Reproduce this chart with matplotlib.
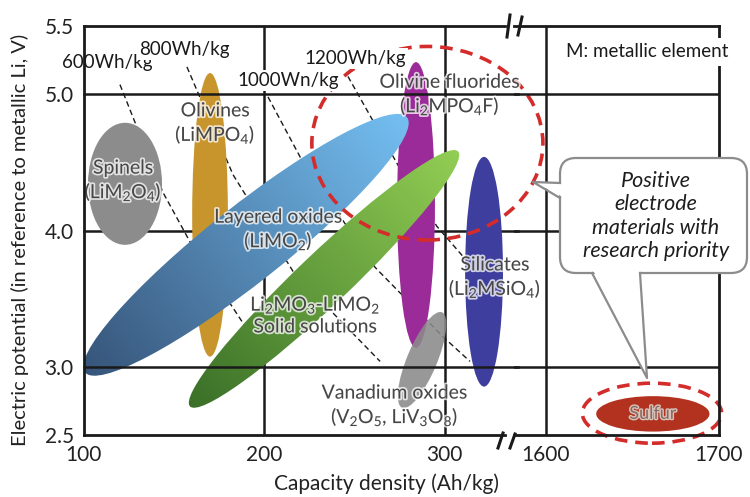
import numpy as np
import matplotlib
matplotlib.use('Agg')
import matplotlib.pyplot as plt
import matplotlib.transforms as mtransforms
import matplotlib.patheffects as pe
from matplotlib.patches import Ellipse, FancyBboxPatch, Polygon
from matplotlib.lines import Line2D

plt.rcParams['font.family'] = ['Lato', 'DejaVu Sans']
plt.rcParams['mathtext.fontset'] = 'custom'
plt.rcParams['mathtext.rm'] = 'Lato'
plt.rcParams['mathtext.it'] = 'Lato:italic'
plt.rcParams['mathtext.bf'] = 'Lato:bold'

# ---- data: capacity density (Ah/kg) vs potential (V) ----
x_ticks_low = [100, 200, 300]
x_ticks_high = [1600, 1700]
y_ticks = [2.5, 3.0, 4.0, 5.0, 5.5]

# energy density curves
wh_labels = ['600Wh/kg', '800Wh/kg', '1000Wn/kg', '1200Wh/kg']
wh600_c = [120.2, 144.0, 160.1, 188.9, 193.0]
wh600_v = [5.07, 4.28, 3.89, 3.31, 3.22]
wh800_c = [157.3, 182.8, 216.1, 239.3, 264.3]
wh800_v = [5.20, 4.41, 3.70, 3.38, 3.04]
wh1000_c = [202.2, 221.6, 261.5, 299.2, 314.1]
wh1000_v = [4.98, 4.50, 3.73, 3.22, 3.04]
wh1200_c = [246.5, 274.2, 295.8, 310.2, 319.7]
wh1200_v = [5.13, 4.48, 4.03, 3.81, 3.64]
wh_label_c = [113.0, 155.7, 213.3, 250.4]
wh_label_v = [5.23, 5.33, 5.10, 5.26]

# upright material regions: capacity range, potential range
up_names = ['Spinels', 'Olivines', 'Olivine fluorides', 'Silicates']
up_c_min = [102.5, 160.2, 273.7, 311.4]
up_c_max = [143.5, 180.0, 294.7, 332.4]
up_v_min = [3.895, 3.075, 3.14, 2.855]
up_v_max = [4.79, 5.155, 5.235, 4.54]
up_colors = ['#8c8c8c', '#c8952c', '#9b2b98', '#3e3e9e']

# tilted material regions: (capacity, potential) of both ends
tilt_names = ['Layered oxides', 'Li2MO3-LiMO2', 'Vanadium oxides']
tilt_c = [[100.8, 279.2], [159.0, 307.5], [276.5, 298.6]]
tilt_v = [[2.96, 4.83], [2.71, 4.58], [2.70, 3.40]]

# sulfur
sulfur_c = [1629.0, 1694.5]
sulfur_v = [2.525, 2.785]

# research priority rings
ring_c = [226.5, 354.5]
ring_v = [3.93, 5.35]
ring2_c = [1621.0, 1701.5]
ring2_v = [2.44, 2.88]

W, H = 750, 497
fig = plt.figure(figsize=(W / 100, H / 100), dpi=100)
ax = fig.add_axes([83.5 / W, 1 - 435 / H, (505 - 83.5) / W, (435 - 26) / H])
ax2 = fig.add_axes([514 / W, 1 - 435 / H, (719 - 514) / W, (435 - 26) / H])
ax2.patch.set_visible(False)
for a in (ax, ax2):
    a.set_ylim(2.5, 5.5)
    a.set_autoscale_on(False)
ax.set_xlim(100, 333.5)
ax2.set_xlim(1581.5, 1700)

ident = mtransforms.IdentityTransform()
ink = '#1a1a1a'

ax.spines['right'].set_visible(False)
ax2.spines['left'].set_visible(False)
for a in (ax, ax2):
    for s in a.spines.values():
        s.set_linewidth(2.0)
        s.set_color(ink)
        s.set_zorder(6)
    a.tick_params(length=0, pad=7, labelsize=15, colors='#222222')
ax.set_xticks(x_ticks_low)
ax.set_yticks(y_ticks)
ax.set_yticklabels(['%.1f' % v for v in y_ticks])
ax2.set_xticks(x_ticks_high)
ax2.set_yticks([])

# grid
for xv in [200, 300]:
    ax.axvline(xv, color=ink, lw=1.8, zorder=1)
ax2.axvline(1600, color=ink, lw=1.8, zorder=1)
ax.axhline(4.0, xmax=1.03, color=ink, lw=1.8, zorder=1, clip_on=False)
ax2.axhline(4.0, color=ink, lw=1.8, zorder=1)
for yv in [3.0, 5.0]:
    ax.axhline(yv, xmax=1.03, color=ink, lw=1.8, zorder=2.8, clip_on=False)
    ax2.axhline(yv, color=ink, lw=1.8, zorder=2.8)

# energy density lines
for cs, vs in [(wh600_c, wh600_v), (wh800_c, wh800_v),
               (wh1000_c, wh1000_v), (wh1200_c, wh1200_v)]:
    ax.plot(cs, vs, color=ink, lw=1.0, ls=(0, (4, 2.5)), zorder=1.5)
for lab, c, v in zip(wh_labels, wh_label_c, wh_label_v):
    ax.text(c, v, lab, ha='center', va='center', fontsize=13.5, color=ink, zorder=5,
            bbox=dict(boxstyle='square,pad=0.12', fc='white', ec='none'))

# upright regions
up_z = [2.0, 2.0, 2.1, 2.1]
for c0, c1, v0, v1, col, z in zip(up_c_min, up_c_max, up_v_min, up_v_max, up_colors, up_z):
    ax.add_patch(Ellipse(((c0 + c1) / 2, (v0 + v1) / 2), c1 - c0, v1 - v0,
                         facecolor=col, edgecolor='none', zorder=z))


def tilted(a, cs, vs, thick, dark, light, z, alpha=1.0):
    p = a.transData.transform(np.column_stack([cs, vs]))
    mid = p.mean(axis=0)
    d = p[1] - p[0]
    length = np.hypot(d[0], d[1])
    ang = np.degrees(np.arctan2(d[1], d[0]))
    if dark == light:
        a.add_patch(Ellipse(mid, length, thick, angle=ang, transform=ident,
                            facecolor=dark, edgecolor='none', zorder=z, alpha=alpha))
        return
    ell = Ellipse(mid, length, thick, angle=ang, transform=ident,
                  facecolor='none', edgecolor='none', zorder=z)
    a.add_patch(ell)
    n = 300
    xs = np.linspace(mid[0] - length / 2, mid[0] + length / 2, n)
    ys = np.linspace(mid[1] - length / 2, mid[1] + length / 2, n)
    X, Y = np.meshgrid(xs, ys)
    t = ((X - p[0][0]) * d[0] + (Y - p[0][1]) * d[1]) / length ** 2
    t = np.clip(t, 0, 1)[..., None]
    c0 = np.array(matplotlib.colors.to_rgb(dark))
    c1 = np.array(matplotlib.colors.to_rgb(light))
    rgb = c0 * (1 - t) + c1 * t
    im = a.imshow(rgb, extent=(xs[0], xs[-1], ys[0], ys[-1]), origin='lower',
                  transform=ident, zorder=z, aspect='auto', interpolation='bilinear')
    im.set_clip_path(ell)


tilted(ax, tilt_c[0], tilt_v[0], 76, '#37557a', '#74bff2', 2.3)
tilted(ax, tilt_c[1], tilt_v[1], 52, '#3a7028', '#92ce54', 2.4)
tilted(ax, tilt_c[2], tilt_v[2], 30, '#8a8a8a', '#8a8a8a', 2.5, alpha=0.88)

# sulfur
ax2.add_patch(Ellipse((np.mean(sulfur_c), np.mean(sulfur_v)), sulfur_c[1] - sulfur_c[0],
                      sulfur_v[1] - sulfur_v[0], facecolor='#b3321f', edgecolor='none', zorder=2))

# rings
red = '#d42b2b'
ax.add_patch(Ellipse((np.mean(ring_c), np.mean(ring_v)), ring_c[1] - ring_c[0], ring_v[1] - ring_v[0],
                     fill=False, edgecolor=red, lw=2.6, ls=(0, (3.5, 2.2)), zorder=3, clip_on=False))
ax2.add_patch(Ellipse((np.mean(ring2_c), np.mean(ring2_v)), ring2_c[1] - ring2_c[0], ring2_v[1] - ring2_v[0],
                      fill=False, edgecolor=red, lw=2.6, ls=(0, (3.5, 2.2)), zorder=3, clip_on=False))

# labels
halo = [pe.withStroke(linewidth=2.5, foreground=(1, 1, 1, 0.75))]
lab_kw = dict(ha='center', va='center', fontsize=14, color='#474747', zorder=5,
              path_effects=halo, linespacing=1.2)
ax.text(122.0, 4.36, 'Spinels\n(LiM$_2$O$_4$)', **lab_kw)
ax.text(173.0, 4.78, 'Olivines\n(LiMPO$_4$)', **lab_kw)
ax.text(208.0, 4.00, 'Layered oxides\n(LiMO$_2$)', **lab_kw)
ax.text(228.5, 3.38, 'Li$_2$MO$_3$-LiMO$_2$\nSolid solutions', **lab_kw)
ax.text(303.0, 4.99, 'Olivine fluorides\n(Li$_2$MPO$_4$F)', **lab_kw)
ax.text(328.0, 3.65, 'Silicates\n(Li$_2$MSiO$_4$)', **lab_kw)
ax.text(272.5, 2.71, 'Vanadium oxides\n(V$_2$O$_5$, LiV$_3$O$_8$)', **lab_kw)
ax2.text(np.mean(sulfur_c), np.mean(sulfur_v), 'Sulfur', ha='center', va='center', fontsize=13,
         color='#8a6a60', zorder=5, path_effects=[pe.withStroke(linewidth=2, foreground='#d8c2ba')])
ax2.text(1658.5, 5.31, 'M: metallic element', ha='center', va='center', fontsize=13.5, color=ink,
         zorder=7, bbox=dict(boxstyle='square,pad=0.3', fc='white', ec='none'))

# break marks
for (x0, y0, x1, y1) in [(498, 448, 503, 433), (510, 448, 515, 434),
                         (507, 37, 510, 15), (518, 35, 522, 17)]:
    fig.add_artist(Line2D([x0, x1], [H - y0, H - y1], transform=ident, color=ink, lw=2.2, zorder=8))

# callout
edge = '#8c8c8c'
fig.add_artist(FancyBboxPatch((560, H - 273), 747 - 560, 273 - 158,
                              boxstyle='round,pad=0,rounding_size=16', transform=ident,
                              facecolor='white', edgecolor=edge, lw=1.6, zorder=10))
fig.add_artist(Polygon([(563, H - 184), (533, H - 182), (563, H - 197)], closed=True,
                       transform=ident, facecolor='white', edgecolor='none', zorder=11))
fig.add_artist(Line2D([560, 533, 560], [H - 183, H - 182, H - 198], transform=ident,
                      color=edge, lw=1.6, zorder=12))
fig.add_artist(Polygon([(593, H - 270), (647, H - 378), (639, H - 270)], closed=True,
                       transform=ident, facecolor='white', edgecolor='none', zorder=11))
fig.add_artist(Line2D([592, 647, 640], [H - 273, H - 378, H - 273], transform=ident,
                      color=edge, lw=1.6, zorder=12))
fig.text(656 / W, 1 - 216 / H, 'Positive\nelectrode\nmaterials with\nresearch priority',
         ha='center', va='center', fontsize=15.5, style='italic', color='#1e1e1e',
         linespacing=1.2, zorder=13)

# axis titles
fig.text(386 / W, 1 - 484 / H, 'Capacity density (Ah/kg)', ha='center', va='center',
         fontsize=15, color='#222222')
fig.text(20 / W, 1 - 240 / H, 'Electric potential (in reference to metallic Li, V)',
         ha='center', va='center', rotation=90, fontsize=14.5, color='#222222')

fig.savefig('out.png', dpi=100)
